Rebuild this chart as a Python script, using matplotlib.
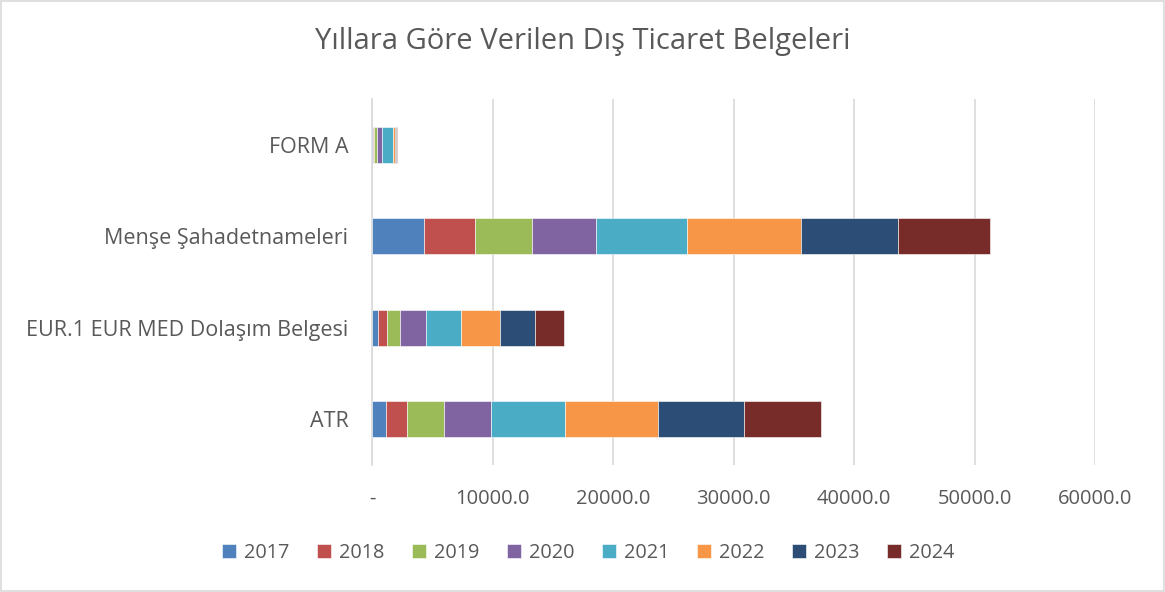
import matplotlib.pyplot as plt
from matplotlib.patches import Rectangle
import numpy as np

categories = ["ATR", "EUR.1 EUR MED Dolaşım Belgesi", "Menşe Şahadetnameleri", "FORM A"]
years = ["2017", "2018", "2019", "2020", "2021", "2022", "2023", "2024"]

# values per year, order follows categories
v2017 = [1140, 500, 4330, 110]
v2018 = [1770, 720, 4220, 85]
v2019 = [3050, 1140, 4720, 250]
v2020 = [3940, 2100, 5350, 360]
v2021 = [6130, 2910, 7490, 940]
v2022 = [7710, 3270, 9460, 170]
v2023 = [7120, 2890, 8120, 80]
v2024 = [6380, 2440, 7630, 80]

series = [v2017, v2018, v2019, v2020, v2021, v2022, v2023, v2024]
colors = ["#4F81BD", "#C0504D", "#9BBB59", "#8064A2",
          "#4BACC6", "#F79646", "#2C4D75", "#772C2A"]

TEXT = "#595959"
GRID = "#d9d9d9"

plt.rcParams["font.family"] = ["Open Sans", "DejaVu Sans"]

fig = plt.figure(figsize=(11.65, 5.92), dpi=100)
ax = fig.add_axes([372 / 1165, 1 - 465 / 592, (1095 - 372) / 1165, (465 - 99) / 592])

y = np.arange(len(categories))
left = np.zeros(len(categories))
for yr, vals, c in zip(years, series, colors):
    ax.barh(y, vals, left=left, height=0.39, color=c, label=yr,
            edgecolor="white", linewidth=0.4, zorder=3)
    left += np.array(vals)

ax.set_xlim(0, 60000)
ax.set_ylim(-0.5, len(categories) - 0.5)
ax.set_yticks(y)
ax.set_yticklabels(categories, fontsize=15.5, color=TEXT)
ticks = np.arange(0, 60001, 10000)
ax.set_xticks(ticks)
ax.set_xticklabels(["-"] + [f"{t:.1f}" for t in ticks[1:]], fontsize=14.5, color=TEXT)
ax.tick_params(axis="both", length=0)
ax.tick_params(axis="x", pad=17)
ax.tick_params(axis="y", pad=17)
ax.grid(axis="x", color=GRID, linewidth=1.2, zorder=0)
for s in ["top", "right", "bottom"]:
    ax.spines[s].set_visible(False)
ax.spines["left"].set_color(GRID)
ax.spines["left"].set_linewidth(1.2)

fig.suptitle("Yıllara Göre Verilen Dış Ticaret Belgeleri", y=0.955,
             fontsize=21, color=TEXT)

fig.legend(loc="center", bbox_to_anchor=(0.505, 1 - 553 / 592), ncol=8,
           frameon=False, fontsize=14.3, handlelength=0.7, handleheight=0.7,
           handletextpad=0.4, columnspacing=1.4, labelcolor=TEXT)

fig.patches.append(Rectangle((0.001, 0.001), 0.998, 0.998, transform=fig.transFigure,
                             fill=False, edgecolor=GRID, linewidth=1.2))

fig.savefig("out.png", dpi=100)
